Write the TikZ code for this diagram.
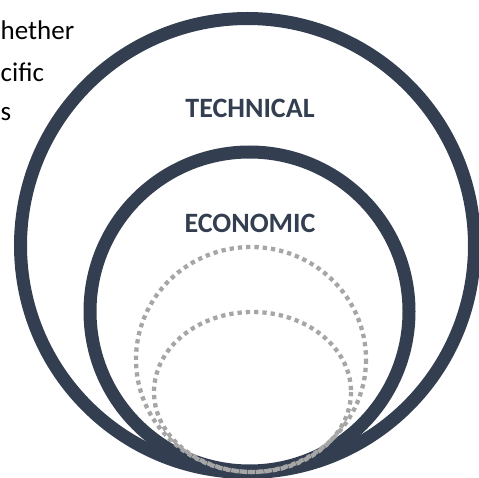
\documentclass[tikz,border=0pt]{standalone}
\usepackage{fontspec}
\setmainfont{Carlito}
\definecolor{ringcol}{HTML}{333F50}
\definecolor{dotcol}{HTML}{A6A6A6}
\tikzset{
  ring/.style={draw=ringcol, line width=13pt},
  dotring/.style={draw=dotcol, line width=4.3pt, dash pattern=on 4.3pt off 4pt},
  label/.style={anchor=base, inner sep=0pt, text=ringcol, font=\fontsize{28}{32}\selectfont\bfseries},
  bodytext/.style={anchor=base west, inner sep=0pt, text=black, font=\fontsize{27}{32}\selectfont}
}
\begin{document}
\begin{tikzpicture}[x=1pt,y=-1pt]
\useasboundingbox (0,0) rectangle (479,478);
% rings
\draw[ring] (247.5,245.5) circle [radius=227];
\draw[ring] (249.5,311.5) circle [radius=159.5];
% dotted rings
\draw[dotring] (251,359.5) ellipse [x radius=115, y radius=112.5];
\draw[dotring] (252.5,392) ellipse [x radius=98.5, y radius=80];
% labels
\node[label] (tech) at (250,118) {TECHNICAL};
\node[label] (econ) at (250,233) {ECONOMIC};
% cut-off text
\node[bodytext] (t1) at (0.5,39.3) {hether};
\node[bodytext] (t2) at (0.5,81.7) {cific};
\node[bodytext] (t3) at (0.5,120.7) {s};
\end{tikzpicture}
\end{document}
